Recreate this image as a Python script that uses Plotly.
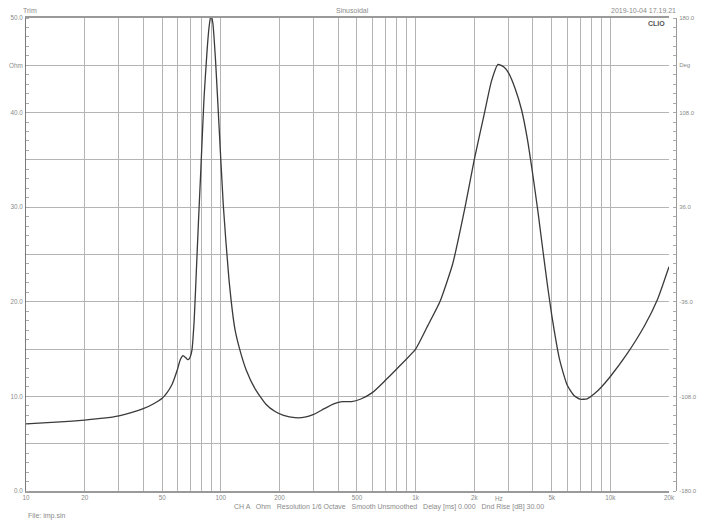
import plotly.graph_objects as go
import math

# Impedance curve (Hz, Ohm)
freq = [10, 15, 20, 25, 30, 35, 40, 45, 50, 53, 56, 58, 60, 62, 64, 66, 67.5, 69, 71, 73, 75, 77, 79,
        82, 85, 87, 89, 91, 94, 98, 103, 110, 118, 125, 135, 150, 170, 190, 210, 240, 270, 300,
        340, 380, 420, 470, 520, 600, 700, 800, 1000, 1150, 1333, 1550, 1795, 2000, 2260, 2450,
        2650, 2850, 3000, 3250, 3500, 3750, 4000, 4250, 4500, 4750, 5000, 5500, 6000, 6500, 7000,
        7600, 8300, 9000, 10000, 12000, 15000, 17500, 20000]
ohm = [7.1, 7.3, 7.5, 7.7, 7.95, 8.3, 8.7, 9.2, 9.8, 10.4, 11.2, 12.0, 12.9, 13.9, 14.3, 14.1, 13.9, 14.0, 14.8, 18.0, 23.5, 29.0, 34.0,
       41.5, 46.5, 49.0, 50.3, 49.5, 45.5, 38.5, 30.2, 22.5, 17.2, 15.0, 12.8, 10.8, 9.2, 8.4, 8.0, 7.75, 7.8, 8.1,
       8.7, 9.2, 9.45, 9.45, 9.7, 10.4, 11.7, 12.9, 15.0, 17.4, 20.0, 24.0, 30.0, 35.0, 40.0, 43.3,
       45.1, 44.8, 44.2, 42.5, 40.3, 37.2, 33.4, 29.5, 25.5, 21.8, 18.6, 13.8, 11.2, 10.1, 9.7,
       9.75, 10.3, 11.0, 12.1, 14.3, 17.5, 20.3, 23.7]

x_tickvals = [m * d for d in (10, 100, 1000, 10000) for m in range(1, 10)] + [20000]
x_label_map = {10: "10", 20: "20", 50: "50", 100: "100", 200: "200", 500: "500",
               1000: "1k", 2000: "2k", 5000: "5k", 10000: "10k", 20000: "20k"}
x_ticktext = [x_label_map.get(v, "") for v in x_tickvals]

y_tickvals = [0, 5, 10, 15, 20, 25, 30, 35, 40, 45, 50]
y_ticktext = ["0.0", "", "10.0", "", "20.0", "", "30.0", "", "40.0", "Ohm", "50.0"]

y2_tickvals = [-180, -108, -36, 36, 108, 144, 180]
y2_ticktext = ["-180.0", "-108.0", "-36.0", "36.0", "108.0", "Deg", "180.0"]

OFF = 8                           # default page body margin
W, H = 705 - 2 * OFF, 528 - 2 * OFF
L, R, T, B = 26 - OFF, 669 - OFF, 18 - OFF, 491 - OFF   # plot frame in figure pixels
RA = 676 - OFF                    # right (phase) axis line
PR = 680 - OFF                    # right edge of paper area
GRAY = "#8a8a8a"
FONT = dict(family="Liberation Sans, Arial, sans-serif", size=7, color=GRAY)
TFONT = dict(family="Liberation Sans, Arial, sans-serif", size=6.3, color=GRAY)
RFONT = dict(family="Liberation Sans, Arial, sans-serif", size=6, color=GRAY)

def px(x):
    return (x - OFF - L) / (PR - L)

def py(y):
    return (B - (y - OFF)) / (B - T)

fig = go.Figure()
fig.add_trace(go.Scatter(x=freq, y=ohm, mode="lines",
                         line=dict(color="#3a3a3a", width=1.3, shape="spline", smoothing=0.5),
                         hoverinfo="skip", showlegend=False, cliponaxis=True))
fig.add_trace(go.Scatter(x=[100], y=[0], yaxis="y2", mode="markers",
                         marker=dict(opacity=0), hoverinfo="skip", showlegend=False))

fig.update_layout(
    width=W, height=H,
    margin=dict(l=L, r=W - PR, t=T, b=H - B, autoexpand=False),
    paper_bgcolor="white", plot_bgcolor="white",
    font=FONT,
    showlegend=False,
    xaxis=dict(type="log", range=[1, math.log10(20000)], domain=[0, (R - L) / (PR - L)],
               tickmode="array", tickvals=x_tickvals, ticktext=x_ticktext,
               showgrid=True, gridcolor="#b4b4b4", gridwidth=1,
               showline=True, linecolor="#9a9a9a", linewidth=1.5, mirror=True,
               ticks="", tickfont=TFONT, zeroline=False, fixedrange=True, automargin=False),
    yaxis=dict(range=[0, 50], tickmode="array", tickvals=y_tickvals, ticktext=y_ticktext,
               showgrid=True, gridcolor="#b4b4b4", gridwidth=1,
               showline=True, linecolor="#7a7a7a", linewidth=1,
               ticks="", ticklabelstandoff=1,
               minor=dict(tickmode="linear", tick0=0, dtick=1, ticks="inside",
                          ticklen=3, tickcolor="#aaaaaa", showgrid=False),
               tickfont=TFONT, zeroline=False, fixedrange=True, automargin=False),
    yaxis2=dict(range=[-180, 180], overlaying="y", side="right", anchor="free",
                position=(RA - L) / (PR - L), tickmode="array", tickvals=y2_tickvals, ticktext=y2_ticktext,
                showgrid=False, showline=True, linecolor="#9a9a9a", linewidth=1,
                ticks="", ticklabelstandoff=1,
                minor=dict(tickmode="linear", tick0=-180, dtick=7.2, ticks="inside",
                           ticklen=3, tickcolor="#aaaaaa", showgrid=False),
                tickfont=RFONT, zeroline=False, fixedrange=True, automargin=False),
)

def ann(text, x, y, xanchor="center", yanchor="middle", **kw):
    f = dict(FONT)
    f.update(kw)
    fig.add_annotation(text=text, x=px(x), y=py(y), xref="paper", yref="paper",
                       xanchor=xanchor, yanchor=yanchor, showarrow=False, font=f)

ann("Trim", 30, 10)
ann("Sinusoidal", 352, 10)
ann("2019-10-04 17.19.21", 678, 10, xanchor="right")
ann("<b>CLIO</b>", 667, 23, xanchor="right", color="#555555")
ann("Hz", 499, 498, size=6.3)
ann("CH A   Ohm   Resolution 1/6 Octave   Smooth Unsmoothed   Delay [ms] 0.000   Dnd Rise [dB] 30.00",
    232, 507, xanchor="left")
ann("File: imp.sin", 26, 516, xanchor="left")

fig.write_html("out.html")
